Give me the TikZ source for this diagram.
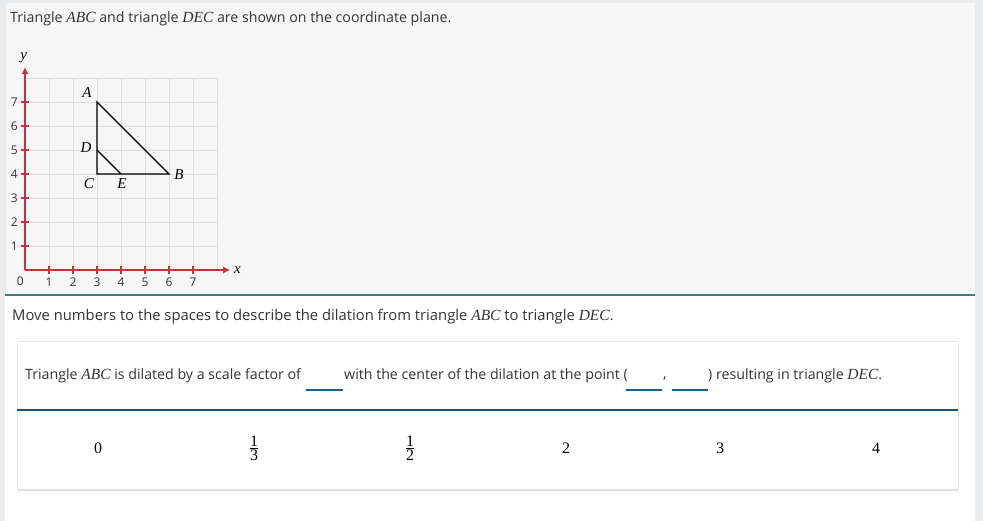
\documentclass[tikz,border=0pt]{standalone}
\usepackage{amsmath}
\usepackage{fontspec}
\setmainfont{Open Sans}
\newfontfamily\serif{Liberation Serif}
\usepackage{tikz}
\usetikzlibrary{positioning, arrows.meta, calc}

\definecolor{pagebg}{HTML}{E8ECEF}
\definecolor{panelbg}{HTML}{F6F6F6}
\definecolor{gridline}{HTML}{D6DEE4}
\definecolor{axisred}{HTML}{C4323C}
\definecolor{teal}{HTML}{3A7C8A}
\definecolor{blankblue}{HTML}{1F5F8C}
\definecolor{txt}{HTML}{333333}

\newcommand{\tri}[1]{{\serif\itshape\fontsize{15.5}{17}\selectfont #1}}

\tikzset{
    prompt/.style={anchor=west, inner sep=0, text=txt, font=\fontsize{14.2}{16}\selectfont},
    ticklabel/.style={inner sep=0, text=txt, font=\fontsize{12}{14}\selectfont},
    vertex/.style={inner sep=0, font=\fontsize{15}{17}\selectfont\serif\itshape},
    choice/.style={inner sep=0, font=\fontsize{16}{18}\selectfont\serif},
    blank/.style={blankblue, line width=2pt},
    axis/.style={axisred, line width=1.1pt}
}

\def\tikgrid{%
    \def\xlines{8}
    \def\ylines{8}

    \coordinate (A) at (3,7);
    \coordinate (B) at (6,4);
    \coordinate (C) at (3,4);
    \coordinate (D) at (3,5);
    \coordinate (E) at (4,4);
    % draw vertical lines
    \foreach \x in {1,...,\xlines}
    {
        \draw[gridline] (\x, 0) -- (\x, \ylines);
    }

    % draw horizontal lines
    \foreach \y in {1,...,\ylines}
    {
        \draw[gridline] (0, \y) -- (\xlines, \y);
    }

    % axes
    \draw[axis, -{Latex[length=7pt, width=7pt]}] (0, 0) -- (8.55, 0);
    \draw[axis, -{Latex[length=7pt, width=7pt]}] (0, 0) -- (0, 8.45);
    \foreach \i in {1,...,7}
    {
        \draw[axis] (\i, -0.17) -- (\i, 0.17);
        \draw[axis] (-0.17, \i) -- (0.17, \i);
        \node[ticklabel] (xl\i) at (\i, -0.5) {\i};
        \node[ticklabel] (yl\i) at (-0.45, \i) {\i};
    }
    \node[ticklabel] (zero) at (-0.2, -0.47) {0};
    \node[vertex] (xname) at (8.85, 0) {x};
    \node[vertex] (yname) at (-0.05, 8.85) {y};
}

\begin{document}
\begin{tikzpicture}[x=1pt, y=-1pt]
    % page and panels
    \fill[pagebg] (0,0) rectangle (983,521);
    \filldraw[fill=panelbg, draw=black!8] (5,2) rectangle (975,295);
    \fill[white] (5,296) rectangle (975,521);
    \draw[teal, line width=2pt] (5,295) -- (975,295);

    \node[prompt] (intro) at (10,19)
        {Triangle \tri{ABC} and triangle \tri{DEC} are shown on the coordinate plane.};

    \begin{scope}[shift={(25,270)}, x=24pt, y=24pt]
        \tikgrid

        \draw[black, line width=1.4pt, line join=miter]
            (A) -- (B) -- (C) -- cycle;
        \draw[black, line width=1.4pt]
            (D) -- (E);

        \foreach \point/\dx/\dy in {
            A/-10/9,
            B/10/-1,
            C/-8/-10,
            D/-11/2,
            E/1/-10}{

            \node[vertex] (l\point) at ([xshift=\dx pt, yshift=\dy pt]\point) {\point};
        }
    \end{scope}

    \node[prompt, font=\fontsize{14.8}{16}\selectfont] (task) at (12,317)
        {Move numbers to the spaces to describe the dilation from triangle \tri{ABC} to triangle \tri{DEC}.};

    % answer card
    \fill[black!15] (17,343) rectangle (959,491);
    \filldraw[fill=white, draw=black!9] (17,341) rectangle (958,489);

    \node[prompt] (s1) at (25,376)
        {Triangle \tri{ABC} is dilated by a scale factor of};
    \node[prompt] (s2) at (344,376)
        {with the center of the dilation at the point (};
    \node[prompt] (s3) at (708,376)
        {) resulting in triangle \tri{DEC}.};
    \node[prompt] (comma) at (663,379) {,};

    \draw[blank] (306,390) -- (343,390);
    \draw[blank] (626,390) -- (662,390);
    \draw[blank] (672,390) -- (708,390);

    \draw[blankblue!85!black, line width=1.3pt] (17,410) -- (958,410);

    \foreach \xpos/\val/\name in {
        98/0/c0,
        254/{$\frac{\hbox{\serif 1}}{\hbox{\serif 3}}$}/c1,
        410/{$\frac{\hbox{\serif 1}}{\hbox{\serif 2}}$}/c2,
        566/2/c3,
        720/3/c4,
        876/4/c5}{

        \node[choice] (\name) at (\xpos,448) {\val};
    }
\end{tikzpicture}
\end{document}
